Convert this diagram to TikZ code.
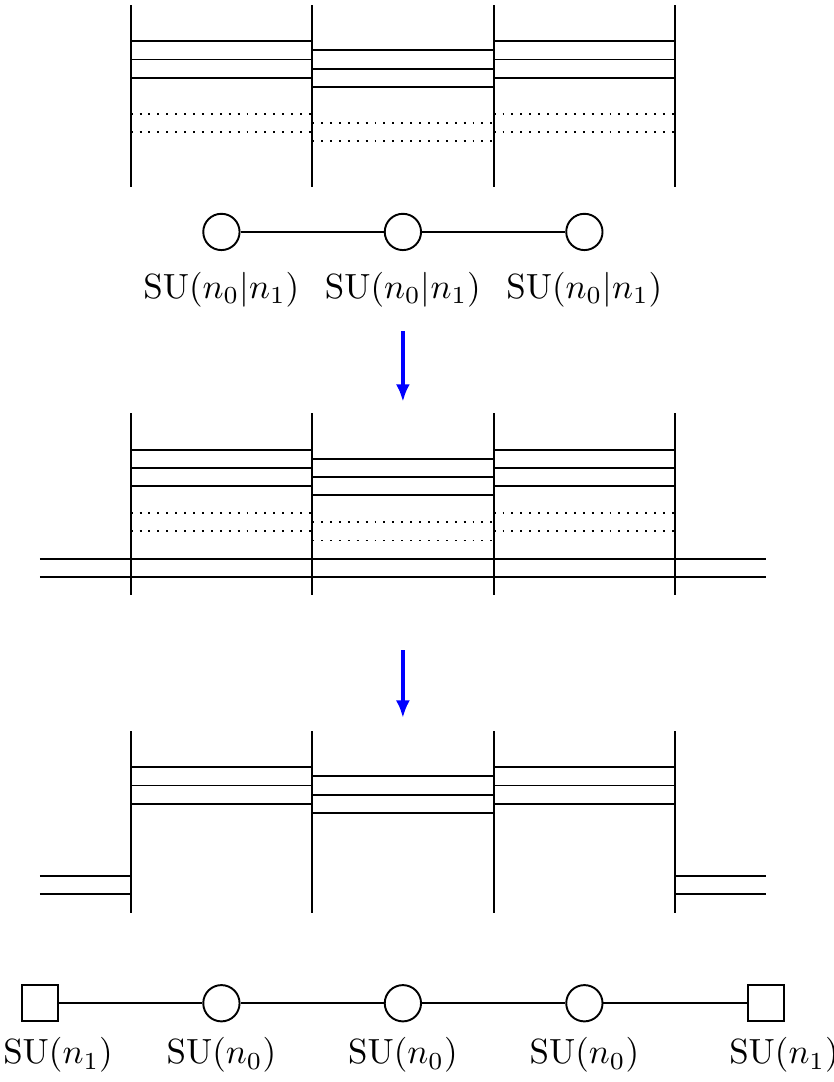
\documentclass[tikz,border=0pt]{standalone}
\usepackage{amsmath}
\usetikzlibrary{arrows.meta, positioning}

\begin{document}
\begin{tikzpicture}[>={Latex[length=5pt,width=4pt]}, x=0.365cm, y=0.365cm, line width=0.55pt,
  gauge/.style={draw,circle,minimum size=0.365cm,inner sep=0pt},
  flavor/.style={draw,minimum size=0.365cm,inner sep=0pt},
  move/.style={->,line width=1pt,blue}]
  \useasboundingbox (-1.1,0.14) rectangle (21.87,-29.67);
  % first brane setup
  \foreach \x in {2.5,7.5,12.5,17.5} \draw(\x,0)--(\x,-5);
  \foreach \y in {1,1.5,2} {\draw(2.5,-\y)--(7.5,-\y); \draw(12.5,-\y)--(17.5,-\y);}
  \foreach \y in {1.25,1.75,2.25} \draw(7.5,-\y)--(12.5,-\y);
  \foreach \y in {3,3.5} {\draw[dotted](2.5,-\y)--(7.5,-\y); \draw[dotted](12.5,-\y)--(17.5,-\y);}
  \foreach \y in {3.25,3.75} \draw[dotted](7.5,-\y)--(12.5,-\y);
  \node[gauge] (g1) at (5,-6.25) {};
  \node[gauge] (g2) at (10,-6.25) {};
  \node[gauge] (g3) at (15,-6.25) {};
  \draw(g1)--(g2)--(g3);
  \node (l1) at (5,-7.85) {$\mathrm{SU}(n_0|n_1)$};
  \node (l2) at (10,-7.85) {$\mathrm{SU}(n_0|n_1)$};
  \node (l3) at (15,-7.85) {$\mathrm{SU}(n_0|n_1)$};
  \coordinate (a1) at (10,-8.98);
  \coordinate (b1) at (10,-10.93);
  \draw[move](a1)--(b1);
  % second brane setup
  \foreach \x in {2.5,7.5,12.5,17.5} \draw(\x,-11.25)--(\x,-16.25);
  \foreach \y in {12.25,12.75,13.25} {\draw(2.5,-\y)--(7.5,-\y); \draw(12.5,-\y)--(17.5,-\y);}
  \foreach \y in {12.5,13,13.5} \draw(7.5,-\y)--(12.5,-\y);
  \foreach \y in {14,14.5} {\draw[dotted](2.5,-\y)--(7.5,-\y); \draw[dotted](12.5,-\y)--(17.5,-\y);}
  \foreach \y in {14.25,14.75} \draw[dotted](7.5,-\y)--(12.5,-\y);
  \foreach \y in {15.25,15.75} \draw(0,-\y)--(20,-\y);
  \coordinate (a2) at (10,-17.77);
  \coordinate (b2) at (10,-19.64);
  \draw[move](a2)--(b2);
  % third brane setup
  \foreach \x in {2.5,7.5,12.5,17.5} \draw(\x,-20)--(\x,-25);
  \foreach \y in {21,21.5,22} {\draw(2.5,-\y)--(7.5,-\y); \draw(12.5,-\y)--(17.5,-\y);}
  \foreach \y in {21.25,21.75,22.25} \draw(7.5,-\y)--(12.5,-\y);
  \foreach \y in {24,24.5} {\draw(0,-\y)--(2.5,-\y); \draw(17.5,-\y)--(20,-\y);}
  % final quiver
  \node[flavor] (f1) at (0,-27.5) {};
  \node[gauge] (h1) at (5,-27.5) {};
  \node[gauge] (h2) at (10,-27.5) {};
  \node[gauge] (h3) at (15,-27.5) {};
  \node[flavor] (f2) at (20,-27.5) {};
  \draw(f1)--(h1)--(h2)--(h3)--(f2);
  \node (m1) at (0.5,-28.93) {$\mathrm{SU}(n_1)$};
  \node (m2) at (5,-28.93) {$\mathrm{SU}(n_0)$};
  \node (m3) at (10,-28.93) {$\mathrm{SU}(n_0)$};
  \node (m4) at (15,-28.93) {$\mathrm{SU}(n_0)$};
  \node (m5) at (20.5,-28.93) {$\mathrm{SU}(n_1)$};
\end{tikzpicture}
\end{document}
